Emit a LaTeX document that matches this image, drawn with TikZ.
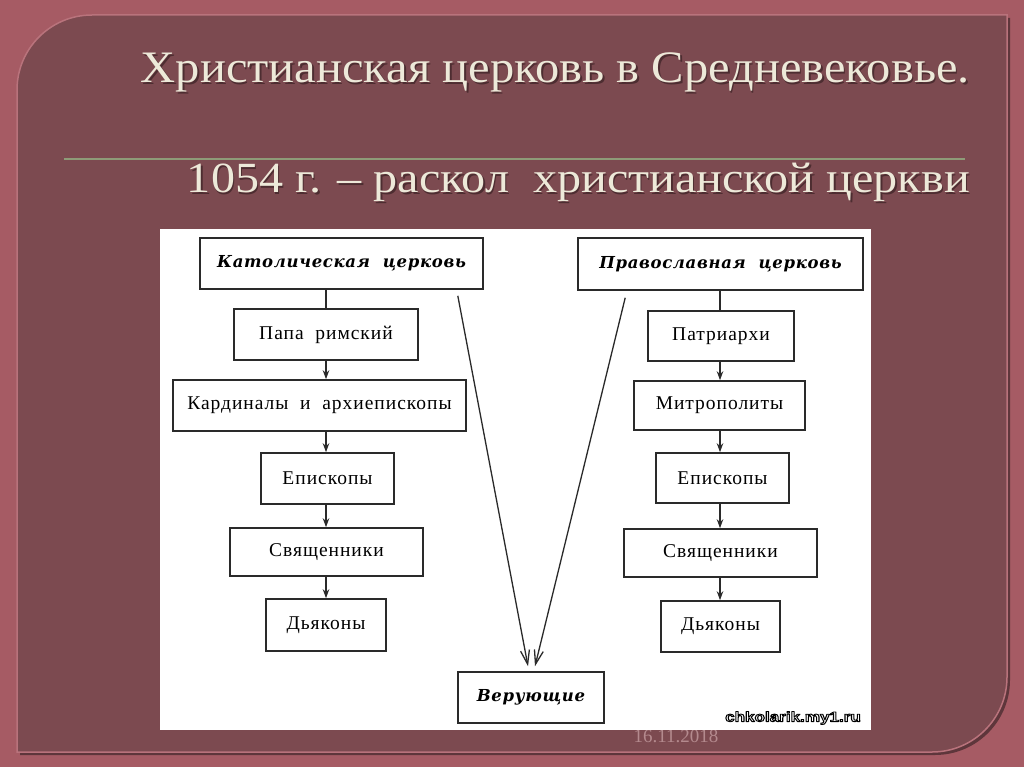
\documentclass[tikz,border=0pt]{standalone}
\usepackage{fontspec}
\setmainfont{Liberation Serif}
\newfontfamily\titlefont{Liberation Serif}
\newfontfamily\diagfont[LetterSpace=5]{Liberation Serif}
\newfontfamily\headfont[LetterSpace=4]{DejaVu Serif}
\newfontfamily\wmfont{Liberation Sans}
\usetikzlibrary{arrows.meta,calc}
\definecolor{outerbg}{HTML}{A65B64}
\definecolor{innerbg}{HTML}{7C4A50}
\definecolor{innershadow}{HTML}{5E363B}
\definecolor{inneredge}{HTML}{B9737C}
\definecolor{titlecol}{HTML}{EDE9D9}
\definecolor{titleshadow}{HTML}{3A2124}
\definecolor{rulecol}{HTML}{8E9B78}
\definecolor{datecol}{HTML}{B48A8E}
\definecolor{boxline}{HTML}{2A2A2A}
\newcommand{\outlined}[1]{\special{pdf:literal direct 0 0 0 RG 0.9 w 1 j 2 Tr}#1\special{pdf:literal direct 0 Tr}}
\tikzset{
  box/.style={draw=boxline, line width=1.6pt, fill=white, inner sep=0pt,
    text=black, font=\diagfont\fontsize{19.5}{22}\selectfont},
  hbox/.style={box, font=\headfont\bfseries\itshape\fontsize{16.5}{20}\selectfont},
  arr/.style={draw=boxline, line width=1.3pt, -{Stealth[length=9pt,width=6.5pt]}},
  plain/.style={draw=boxline, line width=1.3pt},
  larr/.style={draw=boxline, line width=1.3pt, -{Straight Barb[length=14pt,width=9pt]}},
  ttl/.style={anchor=base east, inner sep=0pt, text=titlecol},
  ttlsh/.style={anchor=base east, inner sep=0pt, text=titleshadow, opacity=0.7},
  wm/.style={inner sep=0pt, font=\wmfont\bfseries\fontsize{14}{14}\selectfont}
}
\begin{document}
\begin{tikzpicture}[x=1pt,y=-1pt]
\useasboundingbox (0,0) rectangle (1024,767);
\fill[outerbg] (0,0) rectangle (1024,767);
% panel shadow
\fill[innershadow] (20,755) -- (20,93) .. controls (20,51.6) and (53.6,18) .. (95,18) -- (1010,18) -- (1010,680) .. controls (1010,721.4) and (976.4,755) .. (935,755) -- cycle;
% panel
\fill[innerbg, draw=inneredge, line width=1.5pt] (17,752) -- (17,90) .. controls (17,48.6) and (50.6,15) .. (92,15) -- (1007,15) -- (1007,677) .. controls (1007,718.4) and (973.4,752) .. (932,752) -- cycle;
% title
\node[ttlsh, font=\titlefont\fontsize{45}{45}\selectfont] (t1s) at (971.5,84.5) {\scalebox{1.078}[1]{Христианская церковь в Средневековье.}};
\node[ttl, font=\titlefont\fontsize{45}{45}\selectfont] (t1) at (970,83) {\scalebox{1.078}[1]{Христианская церковь в Средневековье.}};
\draw[rulecol, line width=1.3pt] (64,159) -- (965,159);
\node[ttlsh, font=\titlefont\fontsize{43}{43}\selectfont] (t2s) at (971.5,194.5) {\scalebox{1.12}[1]{1054 г. – раскол \ христианской церкви}};
\node[ttl, font=\titlefont\fontsize{43}{43}\selectfont] (t2) at (970,193) {\scalebox{1.12}[1]{1054 г. – раскол \ христианской церкви}};
% date
\node[anchor=base, inner sep=0pt, text=datecol, font=\fontsize{19}{19}\selectfont] (date) at (676,742) {16.11.2018};
% picture area
\fill[white] (160,229) rectangle (871,730);
% watermark
\node[wm, text=white] (wmark) at (793,718) {\scalebox{1.22}[1]{\outlined{chkolarik.my1.ru}}};
% left column
\node[hbox, minimum width=283pt, minimum height=51pt] (kat) at (341.5,263.5) {Католическая \ церковь};
\node[box, minimum width=184pt, minimum height=51pt] (papa) at (326,334.5) {Папа \ римский};
\node[box, minimum width=293pt, minimum height=51pt] (kard) at (319.5,405.5) {Кардиналы \ и \ архиепископы};
\node[box, minimum width=133pt, minimum height=51pt] (episL) at (327.5,478.5) {Епископы};
\node[box, minimum width=193pt, minimum height=48pt] (svL) at (326.5,552) {Священники};
\node[box, minimum width=120pt, minimum height=52pt] (dyL) at (326,625) {Дьяконы};
% right column
\node[hbox, minimum width=285pt, minimum height=52pt] (prav) at (720.5,264) {Православная \ церковь};
\node[box, minimum width=146pt, minimum height=50pt] (patr) at (721,336) {Патриархи};
\node[box, minimum width=171pt, minimum height=49pt] (mitr) at (719.5,405.5) {Митрополиты};
\node[box, minimum width=133pt, minimum height=50pt] (episR) at (722.5,478) {Епископы};
\node[box, minimum width=193pt, minimum height=48pt] (svR) at (720.5,553) {Священники};
\node[box, minimum width=119pt, minimum height=51pt] (dyR) at (720.5,626.5) {Дьяконы};
% believers
\node[hbox, minimum width=146pt, minimum height=51pt] (ver) at (531,697.5) {Верующие};
% connectors left
\draw[plain] (326,289) coordinate (kA) -- (papa.north -| kA);
\draw[arr] (papa.south -| kA) -- (kard.north -| kA);
\draw[arr] (kard.south -| kA) -- (episL.north -| kA);
\draw[arr] (episL.south -| kA) -- (svL.north -| kA);
\draw[arr] (svL.south -| kA) -- (dyL.north -| kA);
% connectors right
\draw[plain] (720,290) coordinate (pA) -- (patr.north -| pA);
\draw[arr] (patr.south -| pA) -- (mitr.north -| pA);
\draw[arr] (mitr.south -| pA) -- (episR.north -| pA);
\draw[arr] (episR.south -| pA) -- (svR.north -| pA);
\draw[arr] (svR.south -| pA) -- (dyR.north -| pA);
% long arrows
\coordinate (ls) at ($(kat.south east)+(-26,6)$);
\coordinate (rs) at ($(prav.south west)+(48,7)$);
\coordinate (le) at ($(ver.north)+(-3,-5)$);
\coordinate (re) at ($(ver.north)+(4,-5)$);
\draw[larr] (ls) -- (le);
\draw[larr] (rs) -- (re);
\end{tikzpicture}
\end{document}
